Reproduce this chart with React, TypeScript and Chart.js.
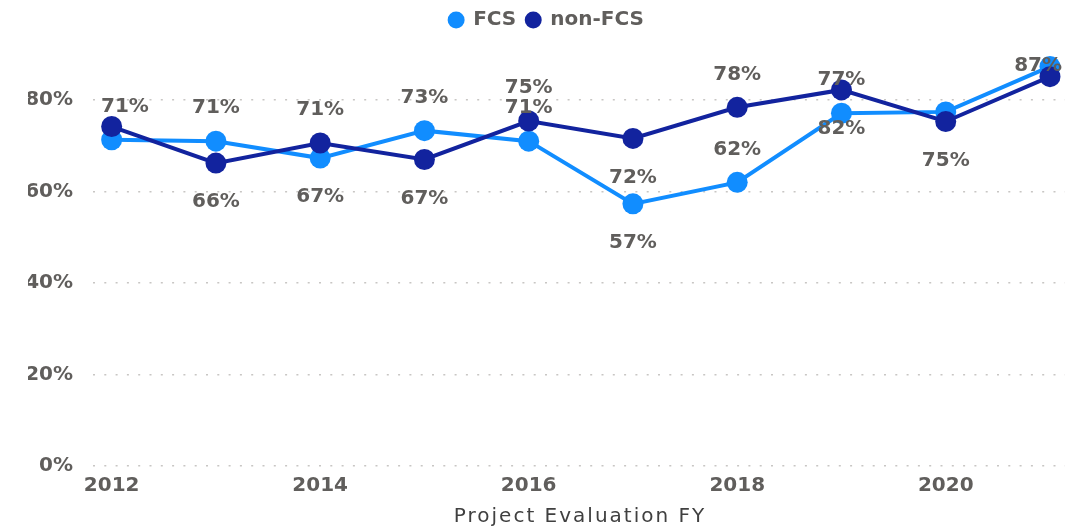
import React, { useEffect, useRef } from 'react';
import { Chart, registerables } from 'chart.js';

Chart.register(...registerables);

const years = [2012, 2013, 2014, 2015, 2016, 2017, 2018, 2019, 2020, 2021];
const xTickYears = [2012, 2014, 2016, 2018, 2020];
const yTickValues = [0, 20, 40, 60, 80];
const fcsValues = [71.3, 71.0, 67.3, 73.3, 71.0, 57.3, 62.0, 77.1, 77.4, 87.3];
const nonFcsValues = [74.2, 66.2, 70.6, 67.0, 75.4, 71.6, 78.4, 82.2, 75.3, 85.1];
const fcsLabelPlacement = ['above', 'above', 'below', 'above', 'above', 'below', 'above', 'above', null, 'above'];
const nonFcsLabelPlacement = [null, 'below', 'above', 'below', 'above', 'below', 'above', 'below', 'below', null];
const seriesNames = ['FCS', 'non-FCS'];
const xAxisTitle = 'Project Evaluation FY';

const FONT = '"DejaVu Sans", sans-serif';
const TEXT_GREY = '#605E5C';

const placements = [fcsLabelPlacement, nonFcsLabelPlacement];

const pointLabelPlugin = {
  id: 'pointLabels',
  afterDatasetsDraw(chart: any) {
    const ctx = chart.ctx;
    const area = chart.chartArea;
    ctx.save();
    ctx.font = `bold 20px ${FONT}`;
    ctx.fillStyle = TEXT_GREY;
    ctx.textAlign = 'center';
    ctx.textBaseline = 'middle';
    chart.data.datasets.forEach((ds: any, di: number) => {
      const meta = chart.getDatasetMeta(di);
      const pl = placements[di];
      meta.data.forEach((pt: any, i: number) => {
        const p = pl[i];
        if (!p) return;
        const text = Math.round(ds.data[i].y) + '%';
        const w = ctx.measureText(text).width;
        let x = pt.x;
        let y = pt.y + (p === 'above' ? -33 : 39);
        x = Math.max(area.left + 8 + w / 2, Math.min(area.right - 3 - w / 2, x));
        y = Math.max(area.top + 26, y);
        ctx.fillText(text, x, y);
      });
    });
    ctx.restore();
  },
};

const axisTitlePlugin = {
  id: 'axisTitle',
  afterDraw(chart: any) {
    const ctx = chart.ctx;
    const area = chart.chartArea;
    ctx.save();
    ctx.font = `20px ${FONT}`;
    (ctx as any).letterSpacing = '2px';
    ctx.fillStyle = '#404040';
    ctx.textAlign = 'center';
    ctx.textBaseline = 'middle';
    ctx.fillText(xAxisTitle, (area.left + area.right) / 2 + 1, 517);
    ctx.restore();
  },
};

export default function App() {
  const canvasRef = useRef<HTMLCanvasElement | null>(null);

  useEffect(() => {
    if (!canvasRef.current) return;
    const fcsColor = '#118DFF';
    const nonColor = '#12239E';
    const chart = new Chart(canvasRef.current, {
      type: 'line',
      data: {
        datasets: [
          {
            label: seriesNames[0],
            data: years.map((yr, i) => ({ x: yr, y: fcsValues[i] })),
            borderColor: fcsColor,
            backgroundColor: fcsColor,
            borderWidth: 4,
            pointRadius: 10.5,
            pointBorderWidth: 0,
            pointBackgroundColor: fcsColor,
            tension: 0,
            order: 1,
          },
          {
            label: seriesNames[1],
            data: years.map((yr, i) => ({ x: yr, y: nonFcsValues[i] })),
            borderColor: nonColor,
            backgroundColor: nonColor,
            borderWidth: 4,
            pointRadius: 10.5,
            pointBorderWidth: 0,
            pointBackgroundColor: nonColor,
            tension: 0,
            order: 0,
          },
        ],
      },
      options: {
        animation: false,
        responsive: false,
        devicePixelRatio: 1,
        layout: { padding: { top: 0, right: 14, bottom: 0, left: 28 } },
        plugins: {
          legend: {
            display: true,
            position: 'top',
            labels: {
              usePointStyle: true,
              pointStyle: 'circle',
              boxWidth: 14,
              boxHeight: 12,
              padding: 10,
              color: TEXT_GREY,
              font: { family: FONT, size: 20, weight: 'bold' },
              sort: (a: any, b: any) => a.datasetIndex - b.datasetIndex,
            },
          },
          tooltip: { enabled: false },
        },
        scales: {
          x: {
            type: 'linear',
            min: 2011.821,
            max: 2021.144,
            afterBuildTicks: (scale: any) => {
              scale.ticks = xTickYears.map((v) => ({ value: v }));
            },
            afterFit: (scale: any) => {
              scale.height = 66;
            },
            grid: { display: false, drawTicks: false },
            border: { display: false },
            ticks: {
              padding: 8,
              color: TEXT_GREY,
              font: { family: FONT, size: 20, weight: 'bold' },
              callback: (v: any) => String(v),
              maxRotation: 0,
            },
            title: { display: false },
          },
          y: {
            min: 0,
            max: 93.11,
            afterBuildTicks: (scale: any) => {
              scale.ticks = yTickValues.map((v) => ({ value: v }));
            },
            afterFit: (scale: any) => {
              scale.width = 65;
            },
            grid: { color: '#C8C6C4', lineWidth: 1.5, drawTicks: false },
            border: { display: false, dash: [2, 9.3] },
            ticks: {
              padding: 20,
              color: TEXT_GREY,
              font: { family: FONT, size: 20, weight: 'bold' },
              callback: (v: any) => v + '%',
            },
          },
        },
      },
      plugins: [pointLabelPlugin, axisTitlePlugin],
    });
    return () => chart.destroy();
  }, []);

  return (
    <div style={{ position: 'absolute', left: 0, top: 0, width: 1079, height: 532, background: '#ffffff' }}>
      <canvas ref={canvasRef} width={1079} height={532} />
    </div>
  );
}
